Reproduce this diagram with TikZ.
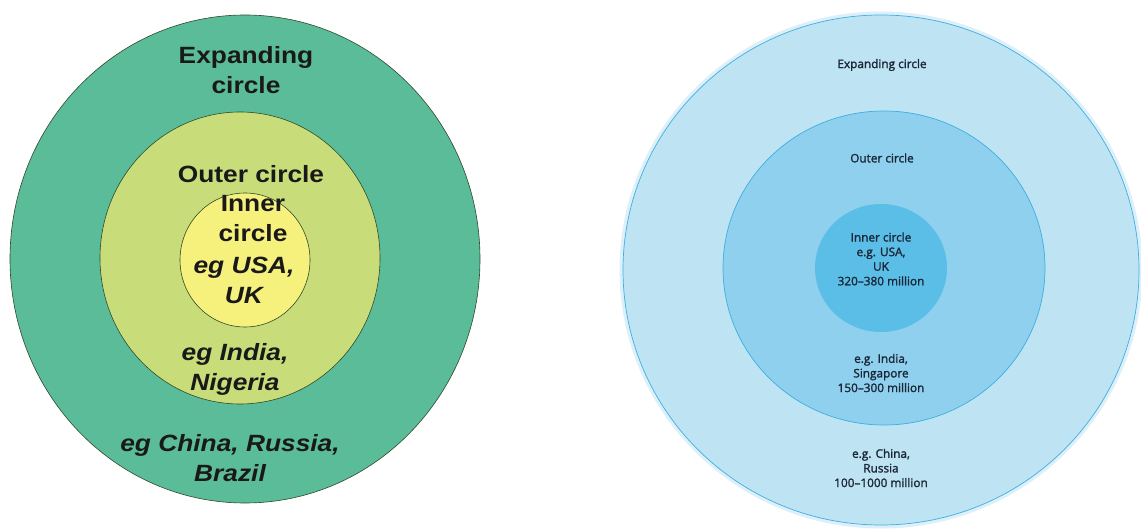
\documentclass[tikz,border=0pt]{standalone}
\usepackage{fontspec}
\newfontfamily\leftfont[FakeStretch=1.12]{Liberation Sans}
\newfontfamily\rightfont[FakeBold=1.6,Ligatures=TeX]{Open Sans}
\definecolor{expgreen}{HTML}{5ABC98}
\definecolor{outgreen}{HTML}{C9DC7A}
\definecolor{inyellow}{HTML}{F6F07C}
\definecolor{ringdark}{HTML}{2F4A2A}
\definecolor{expblue}{HTML}{BEE3F3}
\definecolor{outblue}{HTML}{8ED0EE}
\definecolor{inblue}{HTML}{5BBEE7}
\definecolor{ringblue}{HTML}{3DAFE1}
\definecolor{haloblue}{HTML}{DDF0F9}
\definecolor{navytext}{HTML}{1B2636}
\tikzset{
  lring/.style={draw=ringdark, line width=0.6pt},
  rring/.style={draw=ringblue, line width=0.7pt},
  ltxt/.style={font=\leftfont\bfseries\fontsize{23.5}{30}\selectfont, text=black!90, align=center, inner sep=0pt},
  ltxti/.style={ltxt, font=\leftfont\bfseries\itshape\fontsize{23.5}{30}\selectfont},
  rtxt/.style={font=\rightfont\fontsize{11.8}{14.6}\selectfont, text=navytext, align=center, inner sep=0pt}
}
\begin{document}
\begin{tikzpicture}[x=1pt,y=-1pt]
\useasboundingbox[fill=white] (0,0) rectangle (1141,529);
% ---- left diagram ----
\path[lring, fill=expgreen] (245,259) ellipse [x radius=235, y radius=244];
\path[lring, fill=outgreen] (240,258) ellipse [x radius=140, y radius=146];
\path[lring, fill=inyellow] (245,260) ellipse [x radius=65, y radius=67];
\node[ltxt] (lexp) at (246,70) {Expanding\\circle};
\node[ltxt] (lout) at (251,174) {Outer circle};
\node[ltxt] (linn) at (253,219) {Inner\\circle};
\node[ltxti] (lusa) at (244,280) {eg USA,\\UK};
\node[ltxti] (lind) at (235,369) {eg India,\\Nigeria};
\node[ltxti] (lchn) at (230,458) {eg China, Russia,\\Brazil};
% ---- right diagram ----
\path[draw=haloblue, line width=5pt] (881,270) ellipse [x radius=259, y radius=256];
\path[rring, fill=expblue] (881,270) ellipse [x radius=258, y radius=255];
\path[rring, fill=outblue] (884,268) ellipse [x radius=161, y radius=157];
\path[draw=none, fill=inblue] (881,268) ellipse [x radius=66, y radius=64];
\node[rtxt] (rexp) at (882,65) {Expanding circle};
\node[rtxt] (rout) at (882,158) {Outer circle};
\node[rtxt] (rinn) at (881,259) {Inner circle\\e.g. USA,\\UK\\320–380 million};
\node[rtxt] (rind) at (881,373) {e.g. India,\\Singapore\\150–300 million};
\node[rtxt] (rchn) at (881,468) {e.g. China,\\Russia\\100–1000 million};
\end{tikzpicture}
\end{document}
